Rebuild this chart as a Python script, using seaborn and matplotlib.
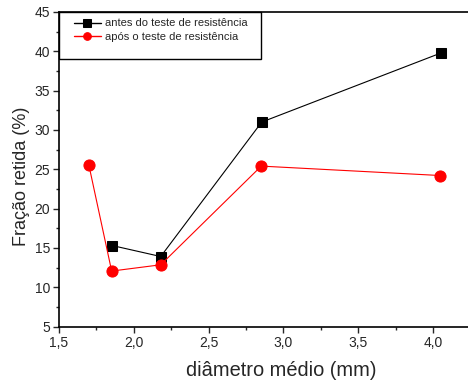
import matplotlib
matplotlib.use("Agg")
import matplotlib.pyplot as plt
from matplotlib.ticker import MultipleLocator, FuncFormatter
from matplotlib.patches import Rectangle
import seaborn as sns

sns.set_style("ticks")
plt.rcParams['font.family'] = ['Liberation Sans', 'DejaVu Sans']

# Diâmetro médio (mm) e fração retida (%)
x_antes = [1.855, 2.18, 2.855, 4.055]
y_antes = [15.3, 13.9, 31.0, 39.8]
x_apos = [1.70, 1.852, 2.18, 2.852, 4.05]
y_apos = [25.5, 12.05, 12.85, 25.4, 24.2]

label_antes = "antes do teste de resistência"
label_apos = "após o teste de resistência"

fig = plt.figure(figsize=(4.68, 3.83), dpi=100)
# the plotting area runs past the right edge of the figure
ax_w_px = 444
ax_h_px = 314.5
ax = fig.add_axes([59 / 468, 1 - 326.5 / 383, ax_w_px / 468, ax_h_px / 383])

sns.lineplot(x=x_antes, y=y_antes, ax=ax, color="black", marker="s",
             markersize=6.5, linewidth=0.8, markeredgecolor="black",
             label=label_antes, sort=False)
sns.lineplot(x=x_apos, y=y_apos, ax=ax, color="red", marker="o",
             markersize=8, linewidth=0.8, markeredgecolor="red",
             label=label_apos, sort=False)

ax.set_xlim(1.5, 1.5 + ax_w_px / 149.6)
ax.set_ylim(5, 45)
ax.xaxis.set_major_locator(MultipleLocator(0.5))
ax.xaxis.set_minor_locator(MultipleLocator(0.25))
ax.yaxis.set_major_locator(MultipleLocator(5))
ax.yaxis.set_minor_locator(MultipleLocator(2.5))
ax.xaxis.set_major_formatter(FuncFormatter(lambda v, p: f"{v:.1f}".replace(".", ",")))
ax.yaxis.set_major_formatter(FuncFormatter(lambda v, p: f"{v:.0f}"))

ax.tick_params(which="major", direction="out", length=4.5, width=1, labelsize=10, pad=2)
ax.tick_params(which="minor", direction="out", length=2.5, width=1)

for side in ["left", "bottom", "top"]:
    ax.spines[side].set_linewidth(1.2)
    ax.spines[side].set_color("black")
ax.spines["right"].set_visible(False)

ax.set_xlabel("diâmetro médio (mm)", fontsize=14.4, labelpad=8)
ax.set_ylabel("Fração retida (%)", fontsize=13, labelpad=2)
ax.yaxis.set_label_coords(-0.066, (326.5 - 176) / ax_h_px)

# Legend entries without their own frame; a fixed box is drawn around them
leg = ax.legend(loc="upper left", bbox_to_anchor=(15 / ax_w_px, 1 - 6.5 / ax_h_px),
                borderaxespad=0, borderpad=0, fontsize=8, frameon=False,
                handlelength=2.4, labelspacing=0.3, handletextpad=0.4)
for h in leg.legend_handles:
    h.set_markersize(5.5)
    h.set_linewidth(1)

ax.add_patch(Rectangle((0, 1 - 47 / ax_h_px), 202 / ax_w_px, 47 / ax_h_px,
                       transform=ax.transAxes, fill=False, edgecolor="black",
                       linewidth=1, zorder=5, clip_on=False))

fig.savefig("out.png", dpi=100)
